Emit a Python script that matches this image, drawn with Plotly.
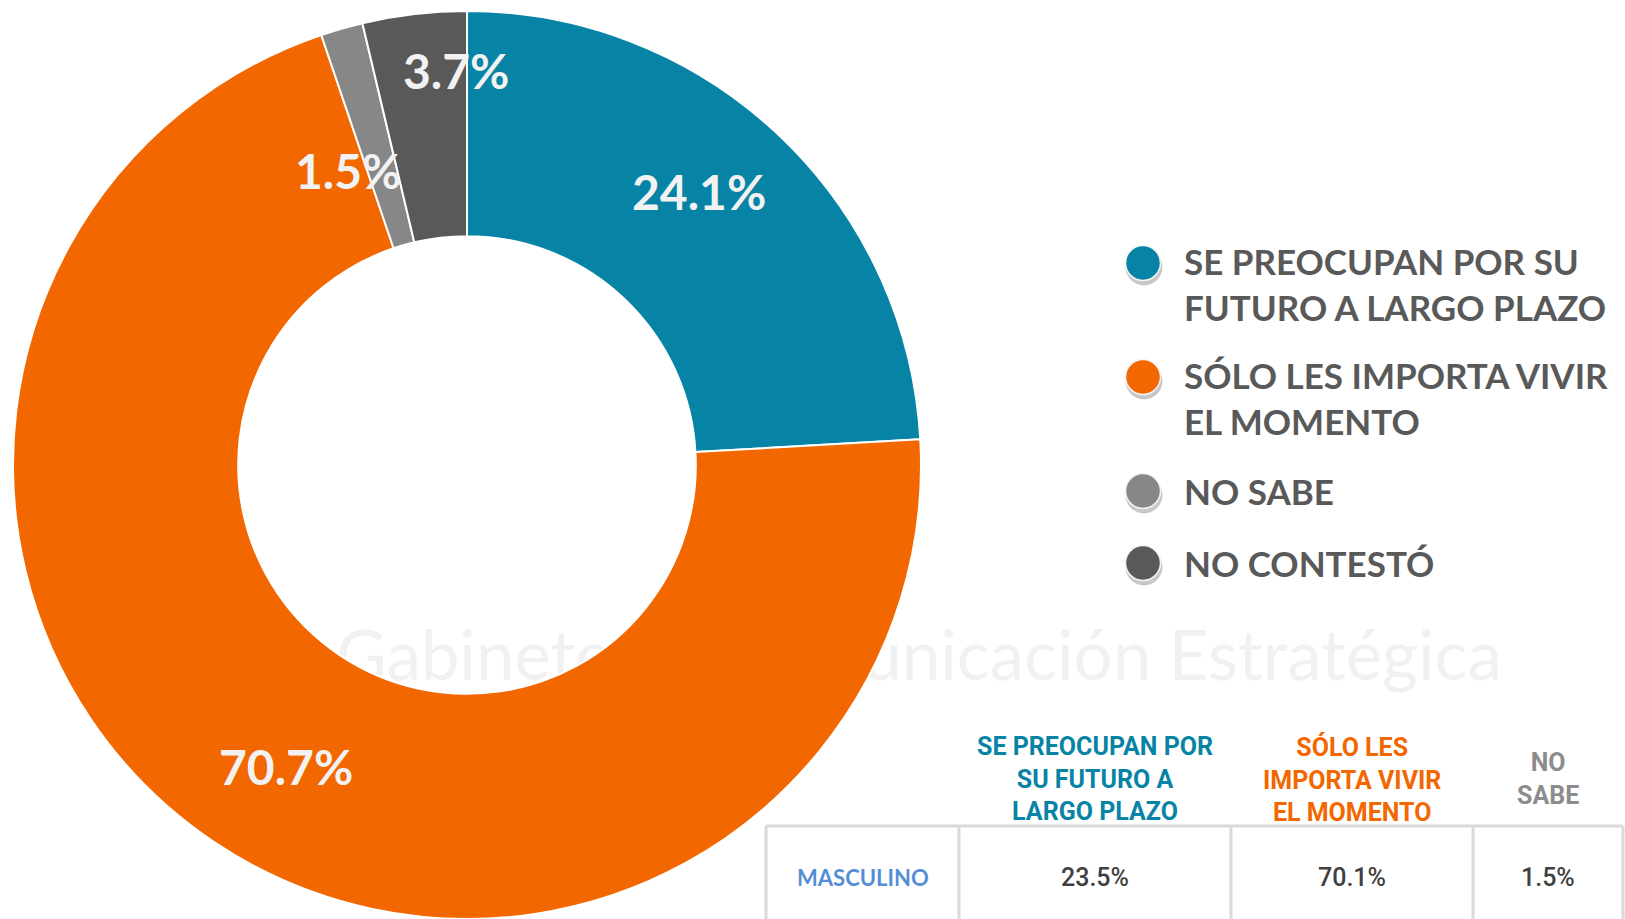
import math
import plotly.graph_objects as go

# ---------------- data ----------------
categories = [
    "SE PREOCUPAN POR SU FUTURO A LARGO PLAZO",
    "SÓLO LES IMPORTA VIVIR EL MOMENTO",
    "NO SABE",
    "NO CONTESTÓ",
]
legend_labels = [
    "SE PREOCUPAN POR SU<br>FUTURO A LARGO PLAZO",
    "SÓLO LES IMPORTA VIVIR<br>EL MOMENTO",
    "NO SABE",
    "NO CONTESTÓ",
]
values = [24.1, 70.7, 1.5, 3.7]

table_headers = [
    "",
    "SE PREOCUPAN POR<br>SU FUTURO A<br>LARGO PLAZO",
    "SÓLO LES<br>IMPORTA VIVIR<br>EL MOMENTO",
    "NO<br>SABE",
]
table_row_label = "MASCULINO"
table_values = [23.5, 70.1, 1.5]

watermark_text = "Gabinete de Comunicación Estratégica"

# ---------------- styles / layout ----------------
W, H = 1625, 919
colors = ["#0784A5", "#F26700", "#878787", "#595959"]
header_colors = ["#0784A5", "#F26700", "#8C8C8C"]
legend_text_color = "#595959"
label_color = "#F2F2F2"

# pie geometry (pixels)
pie_left, pie_right, pie_top = 13, 921, 11
R = (pie_right - pie_left) / 2
cx = (pie_left + pie_right) / 2
cy = pie_top + R
hole = 0.504

# label placement tweaks (radius fraction, angle nudge in degrees)
label_rfrac = [0.79, 0.775, 0.70, 0.87]
label_dang = [-3, -3, -6, 5]

# legend geometry
leg_marker_x = 1143
leg_text_x = 1182
leg_first_y = 263
leg_line_h = 42
leg_gap = 30
leg_font = 35

# table geometry
tbl_cols = [766, 959, 1231, 1473, 1623]
tbl_top = 826
tbl_bottom = 935
tbl_header_y = 779
tbl_row_y = 877

fig = go.Figure()

# watermark (behind everything)
fig.add_trace(go.Scatter(
    x=[919], y=[663], mode="text", text=[watermark_text],
    textfont=dict(family="Lato", size=69, color="#F1F1F1"),
    hoverinfo="skip", showlegend=False,
))

# donut
fig.add_trace(go.Pie(
    labels=categories, values=values, hole=hole, sort=False,
    direction="clockwise", rotation=0,
    marker=dict(colors=colors, line=dict(color="white", width=2)),
    textinfo="none", hoverinfo="label+percent", showlegend=False,
    domain=dict(x=[pie_left / W, pie_right / W], y=[0, 1 - pie_top / H]),
))

annotations = []
# slice labels computed from data
total = sum(values)
cum = 0.0
for i, v in enumerate(values):
    mid = (cum + v / 2) / total * 360 + label_dang[i]
    cum += v
    r = label_rfrac[i] * R
    lx = cx + r * math.sin(math.radians(mid))
    ly = cy - r * math.cos(math.radians(mid))
    annotations.append(dict(
        x=lx, y=ly, xref="x", yref="y", text=f"{v:.1f}%", showarrow=False,
        xanchor="center", yanchor="middle",
        font=dict(family="Lato", size=48, color=label_color, weight=700),
    ))

# legend (manual, circles)
leg_y = []
y = leg_first_y
for lab in legend_labels:
    leg_y.append(y)
    n = lab.count("<br>") + 1
    y += n * leg_line_h + leg_gap

fig.add_trace(go.Scatter(
    x=[leg_marker_x + 1] * len(leg_y), y=[v + 4 for v in leg_y], mode="markers",
    marker=dict(size=37, color="rgba(0,0,0,0.22)"),
    hoverinfo="skip", showlegend=False,
))
fig.add_trace(go.Scatter(
    x=[leg_marker_x] * len(leg_y), y=leg_y, mode="markers",
    marker=dict(size=35, color=colors, line=dict(color="#F4F4F4", width=1.5)),
    hoverinfo="skip", showlegend=False,
))
for lab, ly in zip(legend_labels, leg_y):
    n = lab.count("<br>") + 1
    annotations.append(dict(
        x=leg_text_x, y=ly + (n - 1) * leg_line_h / 2, xref="x", yref="y",
        text=lab, showarrow=False, xanchor="left", yanchor="middle", align="left",
        font=dict(family="Lato", size=leg_font, color=legend_text_color, weight=700),
    ))

# table
shapes = []
line_style = dict(color="#D9D9D9", width=3)
shapes.append(dict(type="line", xref="x", yref="y", x0=tbl_cols[0], x1=tbl_cols[-1],
                   y0=tbl_top, y1=tbl_top, line=line_style))
for xc in tbl_cols:
    shapes.append(dict(type="line", xref="x", yref="y", x0=xc, x1=xc,
                       y0=tbl_top, y1=tbl_bottom, line=line_style))

centers = [(tbl_cols[i] + tbl_cols[i + 1]) / 2 for i in range(len(tbl_cols) - 1)]
for i, htxt in enumerate(table_headers[1:]):
    annotations.append(dict(
        x=centers[i + 1], y=tbl_header_y, xref="x", yref="y", text=htxt,
        showarrow=False, xanchor="center", yanchor="middle", align="center",
        font=dict(family="Roboto", size=25, color=header_colors[i], weight=700),
    ))
annotations.append(dict(
    x=centers[0], y=tbl_row_y, xref="x", yref="y", text=table_row_label,
    showarrow=False, xanchor="center", yanchor="middle",
    font=dict(family="Lato", size=22, color="#558ED5", weight=700),
))
for i, v in enumerate(table_values):
    annotations.append(dict(
        x=centers[i + 1], y=tbl_row_y, xref="x", yref="y", text=f"{v:.1f}%",
        showarrow=False, xanchor="center", yanchor="middle",
        font=dict(family="Roboto", size=25, color="#404040", weight=500),
    ))

fig.update_layout(
    width=W, height=H, margin=dict(l=0, r=0, t=0, b=0),
    paper_bgcolor="white", plot_bgcolor="white",
    xaxis=dict(range=[0, W], visible=False, fixedrange=True),
    yaxis=dict(range=[H, 0], visible=False, fixedrange=True),
    annotations=annotations, shapes=shapes, showlegend=False,
)

fig.write_html(
    "out.html",
    config={"displayModeBar": False},
    post_script="document.body.style.margin='0';document.body.style.overflow='hidden';",
)
